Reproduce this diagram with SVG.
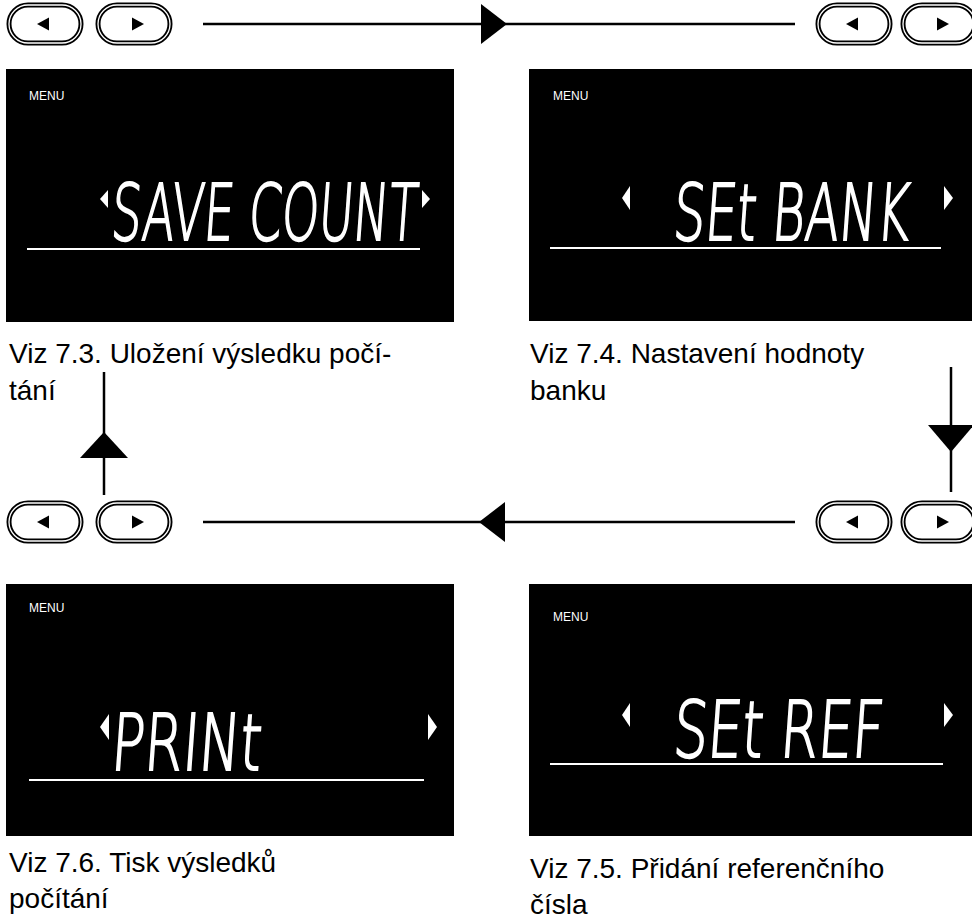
<svg xmlns="http://www.w3.org/2000/svg" width="972" height="920" viewBox="0 0 972 920">
<style>
.pill{fill:#fff;stroke:#000;stroke-width:5}
.pillin{fill:none;stroke:#fff;stroke-width:1.3}
.scr{fill:#000}
.menu{font-family:"Liberation Sans",Arial,sans-serif;font-size:12px;fill:#fff}
.seg{font-family:"DejaVu Sans","Liberation Sans",sans-serif;font-weight:200;font-size:40px;fill:#fff;stroke:#fff;stroke-width:1.1}
.uline{stroke:#fff;stroke-width:2}
.tri{fill:#fff}
.cap{font-family:"Liberation Sans",Arial,sans-serif;font-size:28px;fill:#000}
.conn{stroke:#000;stroke-width:2.5;fill:none}
.head{fill:#000}
</style>
<defs>
<g id="pillL"><rect class="pill" x="0" y="0" width="72" height="38" rx="19"/><rect class="pillin" x="0" y="0" width="72" height="38" rx="19"/><path d="M28 19 L40 12.5 L40 25.5 Z" fill="#000"/></g>
<g id="pillR"><rect class="pill" x="0" y="0" width="72" height="38" rx="19"/><rect class="pillin" x="0" y="0" width="72" height="38" rx="19"/><path d="M46 19 L34 12.5 L34 25.5 Z" fill="#000"/></g>
</defs>

<g id="buttons-top-left"><use href="#pillL" x="9" y="5"/><use href="#pillR" x="98" y="5"/></g>
<g id="buttons-top-right"><use href="#pillL" x="818" y="5"/><use href="#pillR" x="903" y="5"/></g>
<g id="buttons-mid-left"><use href="#pillL" x="9" y="503"/><use href="#pillR" x="98" y="503"/></g>
<g id="buttons-mid-right"><use href="#pillL" x="818" y="503"/><use href="#pillR" x="903" y="503"/></g>

<g id="screen-save-count">
<rect class="scr" x="6" y="69" width="448" height="253"/>
<text class="menu" x="29" y="100">MENU</text>
<path class="tri" d="M100 199 L108 190 L108 208 Z"/>
<text class="seg" transform="translate(110,240) scale(1,1.95) skewX(-8)" x="0" y="0" textLength="306" lengthAdjust="spacingAndGlyphs">SAVE COUNT</text>
<path class="tri" d="M430 199 L422 190 L422 208 Z"/>
<line class="uline" x1="27" y1="249" x2="420" y2="249"/>
</g>
<g id="caption-7-3">
<text class="cap" x="9" y="363">Viz 7.3. Uložení výsledku počí-</text>
<text class="cap" x="9" y="400">tání</text>
</g>

<g id="screen-set-bank">
<rect class="scr" x="529" y="69" width="443" height="252"/>
<text class="menu" x="553" y="100">MENU</text>
<path class="tri" d="M622 198 L630 186 L630 210 Z"/>
<text class="seg" transform="translate(672,240) scale(1,1.95) skewX(-8)" x="0" y="0" textLength="236" lengthAdjust="spacingAndGlyphs">SEt BANK</text>
<path class="tri" d="M953 198 L944 186 L944 210 Z"/>
<line class="uline" x1="550" y1="248" x2="941" y2="248"/>
</g>
<g id="caption-7-4">
<text class="cap" x="530" y="363">Viz 7.4. Nastavení hodnoty</text>
<text class="cap" x="530" y="400">banku</text>
</g>

<g id="screen-print">
<rect class="scr" x="6" y="584" width="448" height="252"/>
<text class="menu" x="29" y="612">MENU</text>
<path class="tri" d="M100 727 L109 714 L109 740 Z"/>
<text class="seg" transform="translate(110,770) scale(1,1.95) skewX(-8)" x="0" y="0" textLength="150" lengthAdjust="spacingAndGlyphs">PRINt</text>
<path class="tri" d="M437 727 L428 714 L428 740 Z"/>
<line class="uline" x1="29" y1="780" x2="424" y2="780"/>
</g>
<g id="caption-7-6">
<text class="cap" x="9" y="872">Viz 7.6. Tisk výsledků</text>
<text class="cap" x="9" y="908">počítání</text>
</g>

<g id="screen-set-ref">
<rect class="scr" x="529" y="584" width="443" height="252"/>
<text class="menu" x="553" y="621">MENU</text>
<path class="tri" d="M622 715 L630 703 L630 727 Z"/>
<text class="seg" transform="translate(672,757) scale(1,1.95) skewX(-8)" x="0" y="0" textLength="210" lengthAdjust="spacingAndGlyphs">SEt REF</text>
<path class="tri" d="M953 715 L944 703 L944 727 Z"/>
<line class="uline" x1="550" y1="764" x2="943" y2="764"/>
</g>
<g id="caption-7-5">
<text class="cap" x="530" y="878">Viz 7.5. Přidání referenčního</text>
<text class="cap" x="530" y="914">čísla</text>
</g>

<g id="connectors">
<line class="conn" x1="203" y1="24" x2="795" y2="24"/>
<path class="head" d="M481 4 L507 24 L481 44 Z"/>
<line class="conn" x1="951" y1="367" x2="951" y2="492"/>
<path class="head" d="M928 425 L974 425 L951 452 Z"/>
<line class="conn" x1="203" y1="522" x2="795" y2="522"/>
<path class="head" d="M505 502 L479 522 L505 542 Z"/>
<line class="conn" x1="104" y1="372" x2="104" y2="495"/>
<path class="head" d="M80 458 L128 458 L104 432 Z"/>
</g>
</svg>
